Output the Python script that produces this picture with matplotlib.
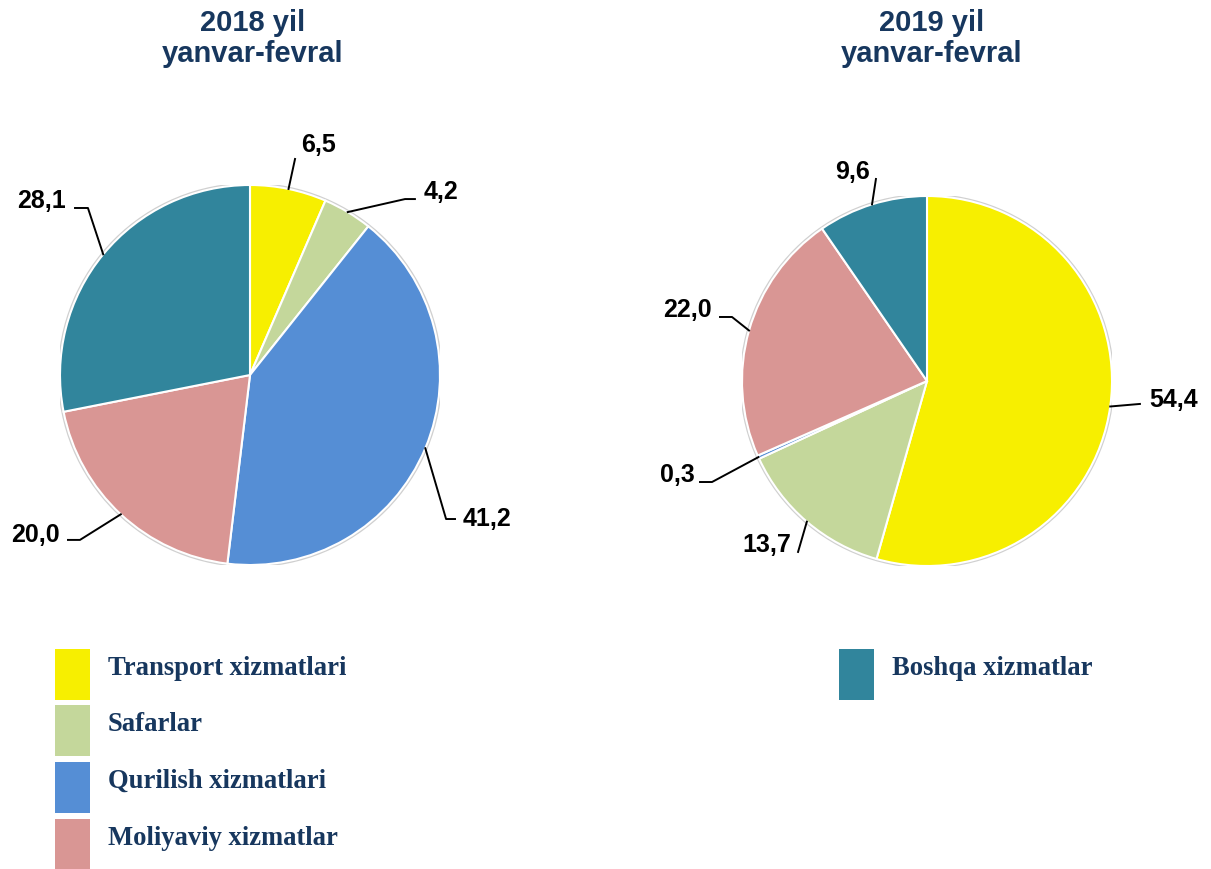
import numpy as np
import matplotlib.pyplot as plt
from matplotlib.patches import Circle, Rectangle

categories = ["Transport xizmatlari", "Safarlar", "Qurilish xizmatlari",
              "Moliyaviy xizmatlar", "Boshqa xizmatlar"]
values_2018 = [6.5, 4.2, 41.2, 20.0, 28.1]
values_2019 = [54.4, 13.7, 0.3, 22.0, 9.6]
titles = ["2018 yil\nyanvar-fevral", "2019 yil\nyanvar-fevral"]

COLORS = ["#F7EF00", "#C4D79B", "#558ED5", "#D99694", "#31859C"]
NAVY = "#17375E"

W, H = 1211, 870

# label layout in pie-radius units: (elbow, end of horizontal stub, text centre)
LAYOUT_2018 = [
    ((0.237, 1.137), (0.237, 1.137), (0.358, 1.216)),
    ((0.816, 0.926), (0.868, 0.926), (1.005, 0.968)),
    ((1.032, -0.758), (1.079, -0.758), (1.245, -0.753)),
    ((-0.895, -0.868), (-0.958, -0.868), (-1.130, -0.837)),
    ((-0.853, 0.879), (-0.921, 0.879), (-1.098, 0.921)),
]
LAYOUT_2019 = [
    ((1.151, -0.124), (1.151, -0.124), (1.335, -0.097)),
    ((-0.697, -0.924), (-0.697, -0.924), (-0.868, -0.881)),
    ((-1.162, -0.546), (-1.227, -0.546), (-1.351, -0.503)),
    ((-1.054, 0.346), (-1.119, 0.346), (-1.296, 0.389)),
    ((-0.276, 1.092), (-0.276, 1.092), (-0.400, 1.135)),
]


def fmt(v):
    return f"{v:.1f}".replace(".", ",")


def draw_pie(fig, cx, cy, r, values, layout, title, title_x):
    ax = fig.add_axes([(cx - r) / W, 1 - (cy + r) / H, 2 * r / W, 2 * r / H])
    ax.add_patch(Circle((0, 0), 1.012, facecolor="#D0D0D0", edgecolor="none", zorder=0))
    wedges, _ = ax.pie(values, colors=COLORS, startangle=90, counterclock=False,
                       radius=1, wedgeprops=dict(edgecolor="white", linewidth=1.5))
    ax.set_xlim(-1, 1)
    ax.set_ylim(-1, 1)
    ax.set_aspect("equal")
    ax.axis("off")

    for w, v, (elbow, stub, txt) in zip(wedges, values, layout):
        mid = np.deg2rad((w.theta1 + w.theta2) / 2)
        x0, y0 = np.cos(mid), np.sin(mid)
        ax.plot([x0, elbow[0], stub[0]], [y0, elbow[1], stub[1]],
                color="black", lw=1.4, clip_on=False, zorder=5)
        ax.text(txt[0], txt[1], fmt(v), ha="center", va="center",
                fontsize=18, fontweight="bold", family="Liberation Sans")

    fig.text(title_x / W, 1 - 9 / H, title, ha="center", va="top",
             fontsize=21, fontweight="bold", color=NAVY, family="Liberation Sans",
             linespacing=1.15)


fig = plt.figure(figsize=(W / 100, H / 100), dpi=100)
fig.patch.set_facecolor("white")

draw_pie(fig, 250, 376, 190, values_2018, LAYOUT_2018, titles[0], 253)
draw_pie(fig, 927, 382, 185, values_2019, LAYOUT_2019, titles[1], 932)

# legend: first four entries in a column on the left, last one on the right
legend_pos = [(55, 650), (55, 706), (55, 763), (55, 820), (839, 650)]
for (px, py), name, col in zip(legend_pos, categories, COLORS):
    fig.patches.append(Rectangle((px / W, 1 - (py + 51) / H), 35 / W, 51 / H,
                                 facecolor=col, edgecolor="none",
                                 transform=fig.transFigure, figure=fig))
    fig.text((px + 53) / W, 1 - (py + 25) / H, name, ha="left", va="baseline",
             fontsize=19.2, fontweight="bold", color=NAVY, family="Liberation Serif")

fig.savefig("out.png", dpi=100, facecolor="white")
